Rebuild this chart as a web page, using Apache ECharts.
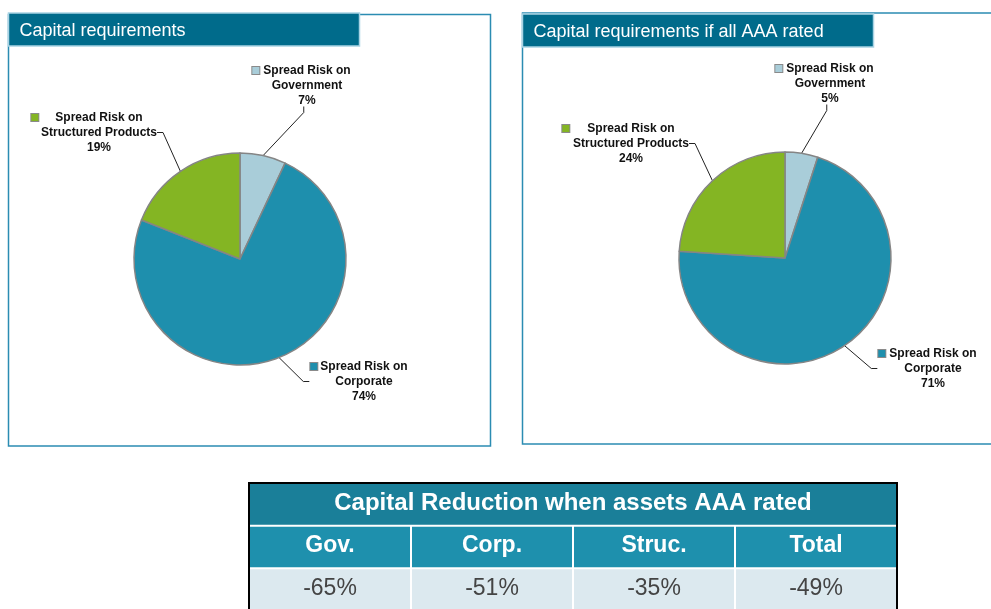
<!DOCTYPE html>
<html>
<head>
<meta charset="utf-8">
<script src="https://cdn.jsdelivr.net/npm/echarts@6/dist/echarts.min.js"></script>
<style>
html,body{margin:0;padding:0;background:#fff;}
#main{width:991px;height:609px;}
</style>
</head>
<body>
<div id="main"></div>
<script>
// ---- data ----
const categories = ['Government', 'Corporate', 'Structured Products'];
const labelPrefix = 'Spread Risk on';
const currentShares = [7, 74, 19];
const aaaShares = [5, 71, 24];
const panelTitles = ['Capital requirements', 'Capital requirements if all AAA rated'];
const tableTitle = 'Capital Reduction when assets AAA rated';
const tableHeaders = ['Gov.', 'Corp.', 'Struc.', 'Total'];
const tableReductions = [-65, -51, -35, -49];

// ---- styles / layout ----
const sliceColors = ['#a9cdd9', '#1e8fad', '#84b523'];
const labelFont = 'Liberation Sans, Arial, sans-serif';
const labelPos = [
  [[307, 63], [364, 359], [99, 110]],
  [[830, 61], [933, 346], [631, 121]]
];
const markerGap = [[4, 3, 17], [4, 4, 18]];

function pieData(shares, si) {
  return categories.map((c, i) => ({
    name: c,
    value: shares[i],
    itemStyle: { color: sliceColors[i] },
    label: {
      rich: {
        m: { width: 7, height: 7, backgroundColor: sliceColors[i], borderColor: '#8a8a8a', borderWidth: 1, verticalAlign: 'middle' },
        g: { width: markerGap[si][i], height: 7 },
        e: { width: 7 + markerGap[si][i], height: 7 },
        t: { fontFamily: labelFont, fontWeight: 'bold', fontSize: 12, lineHeight: 15, color: '#111' }
      }
    }
  }));
}

function pieSeries(shares, si, center) {
  return {
    type: 'pie',
    center: center,
    radius: 106,
    startAngle: 90,
    clockwise: true,
    animation: false,
    data: pieData(shares, si),
    itemStyle: { borderColor: '#858585', borderWidth: 1.5 },
    label: {
      show: true,
      formatter: p => '{m|}{g|}{t|' + labelPrefix + '}{e|}\n{t|' + p.name + '}\n{t|' + p.value + '%}',
      align: 'center'
    },
    labelLine: { show: true, length: 10, length2: 6, lineStyle: { color: '#222', width: 1 } },
    labelLayout: function (params) {
      const p = labelPos[si][params.dataIndex];
      return { x: p[0], y: p[1], align: 'center', verticalAlign: 'top' };
    },
    emphasis: { disabled: true }
  };
}

// table cells built from the arrays
const cells = [];
cells.push({ col: 0, row: 0, span: 4, text: tableTitle, fill: '#1a7f99', color: '#fff', weight: 'bold', size: 24 });
tableHeaders.forEach((h, i) => cells.push({ col: i, row: 1, span: 1, text: h, fill: '#1e90ad', color: '#fff', weight: 'bold', size: 23 }));
tableReductions.forEach((v, i) => cells.push({ col: i, row: 2, span: 1, text: v + '%', fill: '#dce9ef', color: '#444', weight: 'normal', size: 23 }));

function panel(x, y, w, h, ty, tw, th, title) {
  return {
    type: 'group',
    children: [
      { type: 'rect', shape: { x: x, y: y, width: w, height: h }, style: { fill: '#fff', stroke: '#2b8cb2', lineWidth: 1.5 } },
      { type: 'rect', shape: { x: x, y: ty, width: tw, height: th }, style: { fill: '#006b8b', stroke: '#a9d3e4', lineWidth: 1.5 } },
      { type: 'text', x: x + 11, y: ty + th / 2 + 1.5, style: { text: title, fill: '#fff', font: '18px Liberation Sans, Arial, sans-serif', verticalAlign: 'middle', align: 'left' } }
    ]
  };
}

const chart = echarts.init(document.getElementById('main'), null, { renderer: 'canvas' });
chart.setOption({
  animation: false,
  backgroundColor: '#fff',
  graphic: [
    Object.assign(panel(8.5, 14.5, 482, 431.5, 13, 351, 33, panelTitles[0]), { z: -10 }),
    Object.assign(panel(522.5, 13, 480, 431, 14, 351, 33, panelTitles[1]), { z: -10 })
  ],
  grid: { left: 249, top: 483, width: 648, height: 128, outerBoundsMode: 'none', containLabel: false, show: true, borderColor: '#000', borderWidth: 2, backgroundColor: '#fff' },
  xAxis: { type: 'category', data: tableHeaders, show: false },
  yAxis: { type: 'category', data: ['title', 'header', 'value'], inverse: true, show: false },
  series: [
    pieSeries(currentShares, 0, [240, 259]),
    pieSeries(aaaShares, 1, [785, 258]),
    {
      type: 'custom',
      data: cells.map(c => [c.col, c.row]),
      renderItem: function (params, api) {
        const info = cells[params.dataIndex];
        const c = api.coord([info.col, info.row]);
        const s = api.size([1, 1]);
        const x0 = c[0] - s[0] / 2 + 1, y0 = c[1] - s[1] / 2 + 1;
        const w = s[0] * info.span - 2, h = s[1] - 2;
        return {
          type: 'group',
          children: [
            { type: 'rect', shape: { x: x0, y: y0, width: w, height: h }, style: { fill: info.fill } },
            { type: 'text', style: { text: info.text, x: x0 + w / 2, y: y0 + h / 2 - 1, align: 'center', verticalAlign: 'middle', fill: info.color, font: info.weight + ' ' + info.size + 'px Liberation Sans, Arial, sans-serif' } }
          ]
        };
      },
      silent: true
    }
  ]
});
</script>
</body>
</html>
